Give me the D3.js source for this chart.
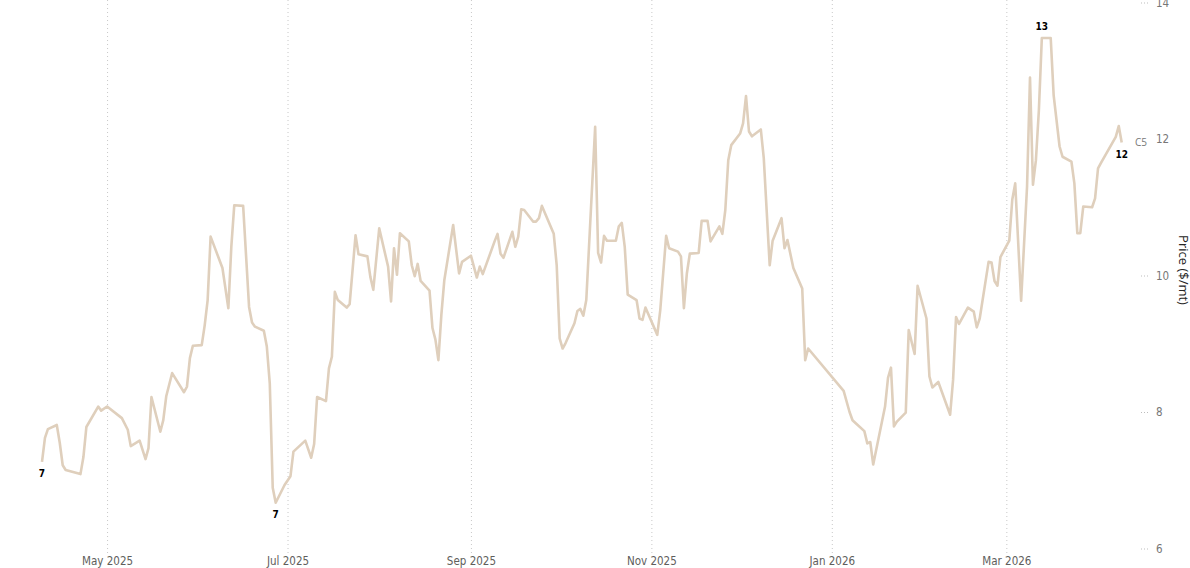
<!DOCTYPE html>
<html><head><meta charset="utf-8">
<script src="https://cdn.jsdelivr.net/npm/d3@7"></script>
<style>
body{margin:0;background:#fff;}
svg{display:block;}
</style>
</head><body>
<svg id="chart" width="1190" height="568"></svg>
<script>
const seriesName = "C5";
const yTitle = "Price ($/mt)";
const yTickValues = [6, 8, 10, 12, 14];
const dates = [
"2025-04-09","2025-04-10","2025-04-11","2025-04-14","2025-04-15","2025-04-16","2025-04-17","2025-04-22","2025-04-23","2025-04-24",
"2025-04-28","2025-04-29","2025-05-01","2025-05-06","2025-05-08","2025-05-09","2025-05-12","2025-05-14","2025-05-15","2025-05-16",
"2025-05-19","2025-05-20","2025-05-21","2025-05-23","2025-05-27","2025-05-28","2025-05-29","2025-05-30","2025-06-02","2025-06-03",
"2025-06-04","2025-06-05","2025-06-09","2025-06-11","2025-06-12","2025-06-13","2025-06-16","2025-06-17","2025-06-18","2025-06-19",
"2025-06-20","2025-06-23","2025-06-24","2025-06-25","2025-06-26","2025-06-27","2025-06-30","2025-07-02","2025-07-03","2025-07-07",
"2025-07-09","2025-07-10","2025-07-11","2025-07-14","2025-07-15","2025-07-16","2025-07-17","2025-07-18","2025-07-21","2025-07-22",
"2025-07-24","2025-07-25","2025-07-28","2025-07-29","2025-07-30","2025-08-01","2025-08-04","2025-08-05","2025-08-06","2025-08-07",
"2025-08-08","2025-08-11","2025-08-12","2025-08-13","2025-08-14","2025-08-15","2025-08-18","2025-08-19","2025-08-20","2025-08-21",
"2025-08-22","2025-08-23","2025-08-26","2025-08-28","2025-08-29","2025-09-01","2025-09-03","2025-09-04","2025-09-05","2025-09-09",
"2025-09-10","2025-09-11","2025-09-12","2025-09-15","2025-09-16","2025-09-17","2025-09-18","2025-09-19","2025-09-22","2025-09-23",
"2025-09-24","2025-09-25","2025-09-29","2025-09-30","2025-10-01","2025-10-02","2025-10-03","2025-10-06","2025-10-07","2025-10-08",
"2025-10-09","2025-10-10","2025-10-13","2025-10-14","2025-10-15","2025-10-16","2025-10-17","2025-10-20","2025-10-21","2025-10-22",
"2025-10-23","2025-10-24","2025-10-27","2025-10-28","2025-10-29","2025-10-30","2025-11-03","2025-11-04","2025-11-06","2025-11-07",
"2025-11-10","2025-11-11","2025-11-12","2025-11-13","2025-11-14","2025-11-17","2025-11-18","2025-11-20","2025-11-21","2025-11-24",
"2025-11-25","2025-11-26","2025-11-27","2025-11-28","2025-12-01","2025-12-02","2025-12-03","2025-12-04","2025-12-05","2025-12-08",
"2025-12-09","2025-12-11","2025-12-12","2025-12-15","2025-12-16","2025-12-17","2025-12-19","2025-12-22","2025-12-23","2025-12-24",
"2026-01-05","2026-01-07","2026-01-08","2026-01-09","2026-01-12","2026-01-13","2026-01-14","2026-01-15","2026-01-19","2026-01-20",
"2026-01-21","2026-01-22","2026-01-23","2026-01-26","2026-01-27","2026-01-29","2026-01-30","2026-02-02","2026-02-03","2026-02-04",
"2026-02-06","2026-02-10","2026-02-11","2026-02-12","2026-02-13","2026-02-16","2026-02-18","2026-02-19","2026-02-20","2026-02-23",
"2026-02-24","2026-02-25","2026-02-26","2026-02-27","2026-03-02","2026-03-03","2026-03-04","2026-03-06","2026-03-08","2026-03-09",
"2026-03-10","2026-03-11","2026-03-12","2026-03-13","2026-03-16","2026-03-17","2026-03-19","2026-03-20","2026-03-23","2026-03-24",
"2026-03-25","2026-03-26","2026-03-27","2026-03-30","2026-03-31","2026-04-01","2026-04-02","2026-04-07","2026-04-08","2026-04-09"
];
const prices = [
7.27,7.62,7.75,7.81,7.55,7.22,7.15,7.09,7.34,7.78,
8.08,8.02,8.08,7.91,7.74,7.50,7.58,7.31,7.47,8.22,
7.71,7.88,8.23,8.57,8.29,8.37,8.79,8.97,8.98,9.27,
9.64,10.57,10.11,9.52,10.42,11.03,11.02,10.28,9.54,9.31,
9.25,9.19,8.96,8.42,6.89,6.67,6.93,7.06,7.42,7.58,
7.33,7.53,8.22,8.16,8.64,8.81,9.76,9.64,9.53,9.58,
10.59,10.31,10.28,9.98,9.79,10.69,10.13,9.62,10.40,10.01,
10.62,10.50,10.15,9.99,10.17,9.92,9.78,9.23,9.06,8.76,
9.42,9.93,10.74,10.03,10.20,10.29,9.97,10.13,10.02,10.50,
10.61,10.32,10.26,10.64,10.42,10.57,10.97,10.96,10.79,10.79,
10.84,11.02,10.61,10.15,9.08,8.93,9.01,9.30,9.48,9.51,
9.41,9.64,12.18,10.33,10.19,10.58,10.51,10.51,10.72,10.77,
10.42,9.72,9.64,9.37,9.35,9.53,9.13,9.49,10.58,10.40,
10.35,10.28,9.52,10.03,10.32,10.33,10.80,10.80,10.50,10.72,
10.61,10.96,11.69,11.91,12.08,12.23,12.63,12.11,12.04,12.14,
11.72,10.15,10.51,10.84,10.40,10.52,10.11,9.81,8.76,8.93,
8.31,8.00,7.88,7.84,7.72,7.54,7.56,7.23,8.08,8.50,
8.65,7.79,7.86,7.99,9.20,8.85,9.85,9.37,8.52,8.36,
8.44,7.96,8.47,9.39,9.29,9.53,9.47,9.24,9.37,10.20,
10.19,9.92,9.85,10.27,10.51,11.11,11.35,9.63,11.30,12.90,
11.33,11.69,12.42,13.48,13.48,12.64,11.89,11.74,11.67,11.35,
10.62,10.62,11.01,11.00,11.13,11.57,11.65,12.03,12.19,11.95
];

const parse = d3.timeParse("%Y-%m-%d");
const data = dates.map((d, i) => ({ date: parse(d), value: prices[i] }));

const svg = d3.select("#chart");
const W = 1190, H = 568;
const plot = { left: 42, right: 1121.7, top: 2.5, bottom: 548.5 };

const x = d3.scaleTime().domain(d3.extent(data, d => d.date)).range([plot.left, plot.right]);
const y = d3.scaleLinear().domain([6, 14]).range([plot.bottom, plot.top]);

const axisFont = "'DejaVu Sans Condensed', 'Liberation Sans Narrow', sans-serif";

// vertical gridlines (every 2 months)
const monthTicks = x.ticks(d3.timeMonth.every(2));
const grid = svg.append("g").attr("class", "grid")
  .attr("transform", `translate(0,553)`)
  .call(d3.axisBottom(x).tickValues(monthTicks).tickSize(-553).tickFormat(""));
grid.select(".domain").remove();
grid.selectAll("line").attr("stroke", "#c8c8c8").attr("stroke-dasharray", "1,3").attr("stroke-width", 1);

// x labels
const xAxis = svg.append("g")
  .attr("transform", `translate(0,553)`)
  .call(d3.axisBottom(x).tickValues(monthTicks).tickSize(0).tickPadding(4).tickFormat(d3.timeFormat("%b %Y")));
xAxis.select(".domain").remove();
xAxis.selectAll("text").attr("font-family", axisFont).attr("font-size", "11.5px").attr("fill", "#605e5c");

// y axis on right
const yAxis = svg.append("g")
  .attr("transform", `translate(1141,0)`)
  .call(d3.axisRight(y).tickValues(yTickValues).tickSize(7).tickPadding(8).tickFormat(d3.format("d")));
yAxis.select(".domain").remove();
yAxis.selectAll("line").attr("stroke", "#bdbdbd").attr("stroke-dasharray", "1,2");
yAxis.selectAll("text").attr("font-family", axisFont).attr("font-size", "11.5px").attr("fill", "#777");

// y title
svg.append("text")
  .attr("transform", `translate(1179,270) rotate(90)`)
  .attr("text-anchor", "middle")
  .attr("font-family", "'Open Sans', 'Noto Sans', sans-serif")
  .attr("font-size", "13px")
  .attr("fill", "#252423")
  .text(yTitle);

// line
const line = d3.line().x(d => x(d.date)).y(d => y(d.value));
svg.append("path").datum(data)
  .attr("d", line)
  .attr("fill", "none")
  .attr("stroke", "#dfcfbc")
  .attr("stroke-width", 2.6)
  .attr("stroke-linejoin", "round");

// data labels: first, min, max, last
const iFirst = 0, iLast = data.length - 1;
const iMin = d3.minIndex(data, d => d.value);
const iMax = d3.maxIndex(data, d => d.value);
const labels = [
  { i: iFirst, dy: 15 },
  { i: iMin, dy: 15 },
  { i: iMax, dy: -8 },
  { i: iLast, dy: 16 }
];
svg.append("g").selectAll("text").data(labels).join("text")
  .attr("x", l => x(data[l.i].date))
  .attr("y", l => y(data[l.i].value) + l.dy)
  .attr("text-anchor", "middle")
  .attr("font-family", axisFont)
  .attr("font-weight", "bold")
  .attr("font-size", "10px")
  .attr("fill", "#000")
  .text(l => d3.format(".0f")(data[l.i].value));

// series name at end
svg.append("rect")
  .attr("x", 1134).attr("y", 136).attr("width", 15).attr("height", 12).attr("fill", "#fff");
svg.append("text")
  .attr("x", 1135)
  .attr("y", y(data[iLast].value) + 4)
  .attr("font-family", "'Open Sans', 'Noto Sans', sans-serif")
  .attr("font-size", "10px")
  .attr("fill", "#777")
  .text(seriesName);
</script>
</body></html>
